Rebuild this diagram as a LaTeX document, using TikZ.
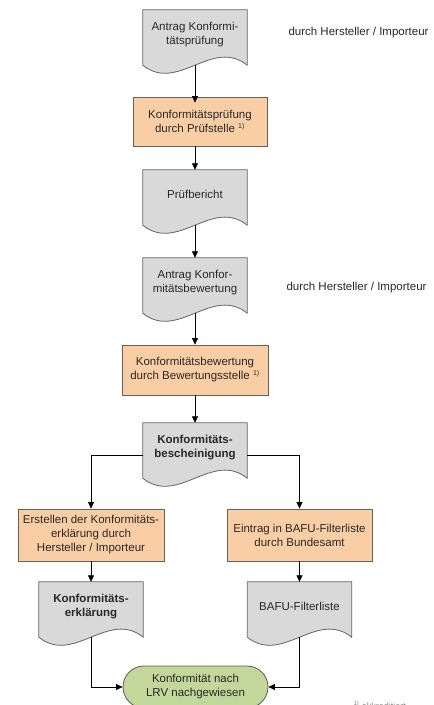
\documentclass[tikz,border=0pt]{standalone}
\usepackage{fontspec}
\setmainfont{Liberation Sans}
\usetikzlibrary{arrows.meta,backgrounds,shapes.misc,calc}
\definecolor{docfill}{RGB}{217,217,217}
\definecolor{docline}{RGB}{100,100,100}
\definecolor{procfill}{RGB}{250,206,164}
\definecolor{procline}{RGB}{105,95,85}
\definecolor{termfill}{RGB}{196,215,155}
\definecolor{termline}{RGB}{90,90,90}
\definecolor{txt}{RGB}{40,40,40}
\newcommand\docshape[1]{%
  \path[docstyle] (#1.north west) -- (#1.north east) -- ([yshift=-6pt]#1.south east)
    .. controls ([xshift=-34.67pt,yshift=22pt]#1.south east) and ([xshift=34.67pt,yshift=-34pt]#1.south west) .. ([yshift=-6pt]#1.south west) -- cycle;}
\begin{document}
\begin{tikzpicture}[x=1pt,y=1pt,
  every node/.style={font=\fontsize{11.5}{14}\selectfont, text=txt},
  proc/.style={draw=procline, fill=procfill, line width=0.8pt, inner sep=0pt, align=center},
  docn/.style={minimum width=104pt, minimum height=49pt, inner sep=0pt, align=center},
  docstyle/.style={draw=docline, fill=docfill, line width=0.8pt},
  term/.style={rounded rectangle, draw=termline, fill=termfill, line width=0.8pt, inner sep=0pt, align=center, minimum width=145pt, minimum height=42pt},
  conn/.style={draw=black, line width=0.8pt, -{Triangle[length=6.5pt,width=6pt]}},
  side/.style={anchor=west},
]
\useasboundingbox (0,0) rectangle (434,-705);

\node[docn] (b1) at (195,-34.5) {Antrag Konformi-\\tätsprüfung};
\node[proc, minimum width=134pt, minimum height=49pt] (b2) at (200,-121.5) {Konformitätsprüfung\\durch Prüfstelle \textsuperscript{\fontsize{7}{8}\selectfont 1)}};
\node[docn] (b3) at (195,-194.5) {Prüfbericht};
\node[docn] (b4) at (195,-282.5) {Antrag Konfor-\\mitätsbewertung};
\node[proc, minimum width=146pt, minimum height=50pt] (b5) at (195,-370) {Konformitätsbewertung\\durch Bewertungsstelle \textsuperscript{\fontsize{7}{8}\selectfont 1)}};
\node[docn, font=\fontsize{11.5}{14}\selectfont\bfseries] (b6) at (195,-447.5) {Konformitäts-\\bescheinigung};
\node[proc, minimum width=146pt, minimum height=52pt] (b7) at (91,-535) {Erstellen der Konformitäts-\\erklärung durch\\Hersteller / Importeur};
\node[proc, minimum width=145pt, minimum height=52pt] (b8) at (299.5,-535) {Eintrag in BAFU-Filterliste\\durch Bundesamt};
\node[docn, font=\fontsize{11.5}{14}\selectfont\bfseries] (b9) at (91,-606.5) {Konformitäts-\\erklärung};
\node[docn] (b10) at (299.5,-606.5) {BAFU-Filterliste};
\node[term] (t) at (195.5,-687) {Konformität nach\\LRV nachgewiesen};

\node[side] (s1) at (285,-33) {durch Hersteller / Importeur};
\node[side] (s2) at (283,-288) {durch Hersteller / Importeur};
\node[anchor=base west, font=\fontsize{9}{10}\selectfont, text=gray] (fn) at (350,-709) {\textsuperscript{1)} akkreditiert};

\begin{pgfonlayer}{background}
  \docshape{b1}
  \docshape{b3}
  \docshape{b4}
  \docshape{b6}
  \docshape{b9}
  \docshape{b10}
\end{pgfonlayer}

\draw[conn] ([yshift=-6pt]b1.south) -- ([yshift=-6pt]b1.south |- b2.north);
\draw[conn] (b3.north |- b2.south) -- (b3.north);
\draw[conn] ([yshift=-6pt]b3.south) -- (b4.north);
\draw[conn] ([yshift=-6pt]b4.south) -- (b5.north);
\draw[conn] (b5.south) -- (b6.north);
\draw[conn] ([yshift=-7.5pt]b6.west) -| (b7.north);
\draw[conn] ([yshift=-7.5pt]b6.east) -| (b8.north);
\draw[conn] (b7.south) -- (b9.north);
\draw[conn] (b8.south) -- (b10.north);
\draw[conn] ([yshift=-6pt]b9.south) |- (t.west);
\draw[conn] ([yshift=-6pt]b10.south) |- (t.east);
\end{tikzpicture}
\end{document}
